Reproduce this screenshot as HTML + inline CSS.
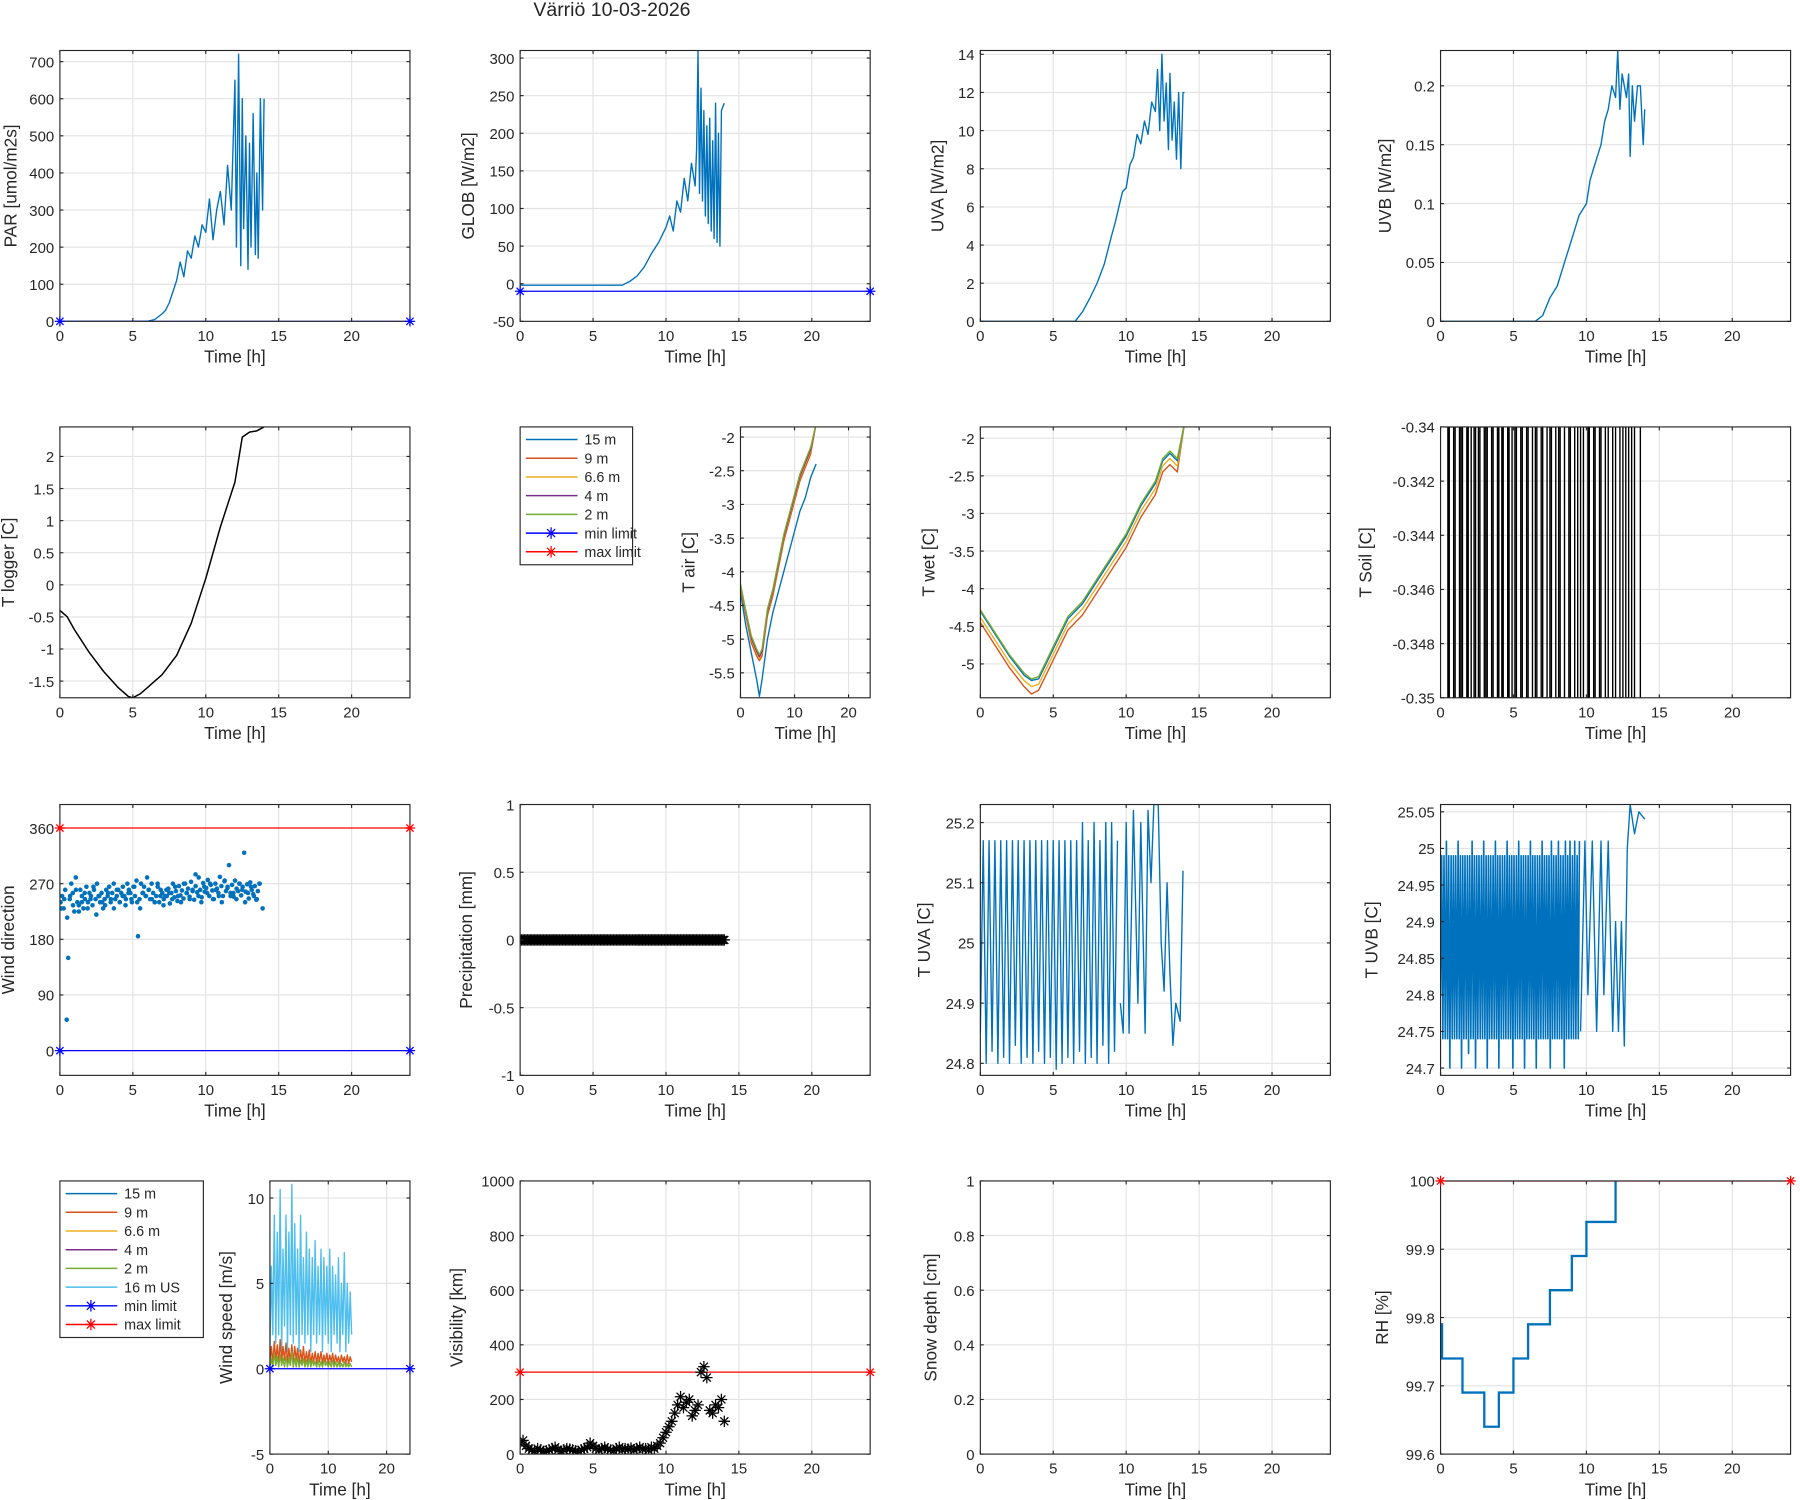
<!DOCTYPE html>
<html><head><meta charset="utf-8"><style>
html,body{margin:0;padding:0;background:#fff}
svg{display:block}
text{font-family:"Liberation Sans",Arial,sans-serif;fill:#262626}
</style></head><body>
<svg id="fig" xmlns="http://www.w3.org/2000/svg" width="1800" height="1500" viewBox="0 0 1568 1307">
<rect x="0" y="0" width="1568" height="1307" fill="#fff"/>
<text x="533" y="14" font-size="17" text-anchor="middle">Värriö 10-03-2026</text>
</svg>
<script>
// ---------- DATA ----------
const parT=[0,6,6.5,7,7.25,7.5,7.75,8,8.25,8.5,8.75,9,9.25,9.5,9.75,10,10.25,10.5,10.75,11,11.25,11.5,11.75,12,12.1,12.25,12.4,12.5,12.6,12.75,12.9,13,13.1,13.25,13.4,13.5,13.6,13.75,13.9,14];
const parV=[0,0,5,20,30,50,80,110,160,120,190,170,230,200,260,240,330,220,300,350,260,420,300,650,200,720,150,600,250,500,140,480,200,560,180,400,170,600,300,600];
const globT=[0,7,7.5,8,8.5,9,9.5,10,10.25,10.5,10.75,11,11.25,11.5,11.75,12,12.1,12.2,12.3,12.4,12.5,12.6,12.7,12.8,12.9,13,13.1,13.2,13.3,13.4,13.5,13.6,13.7,13.8,14];
const globV=[-2,-2,3,10,22,40,55,75,90,70,110,95,140,110,160,130,180,310,120,260,110,230,90,210,80,220,70,190,60,240,55,200,50,230,240];
const uvaT=[0,6.5,7,7.5,8,8.5,9,9.25,9.5,9.75,10,10.25,10.5,10.75,11,11.25,11.5,11.75,12,12.15,12.3,12.45,12.6,12.75,12.9,13,13.15,13.3,13.45,13.6,13.75,13.9,14];
const uvaV=[0,0,0.5,1.2,2,3,4.5,5.2,6,6.8,7,8.2,8.6,9.8,9.3,10.5,9.8,11.5,11,13.2,10,14,10.5,12.5,9,13,9.5,11.5,8.5,12,8,12,12];
const uvbT=[0,6.5,7,7.5,8,8.5,9,9.5,10,10.25,10.5,10.75,11,11.25,11.5,11.75,12,12.15,12.3,12.45,12.6,12.75,12.9,13,13.15,13.3,13.5,13.7,13.9,14];
const uvbV=[0,0,0.005,0.02,0.03,0.05,0.07,0.09,0.1,0.12,0.13,0.14,0.15,0.17,0.18,0.2,0.19,0.23,0.18,0.21,0.2,0.19,0.21,0.14,0.2,0.17,0.2,0.2,0.15,0.18];
const tlogT=[0,0.5,1,2,3,4,4.7,5,5.5,6,7,8,9,10,11,12,12.5,13,13.5,14];
const tlogV=[-0.4,-0.5,-0.7,-1.05,-1.35,-1.6,-1.74,-1.76,-1.7,-1.6,-1.4,-1.1,-0.6,0.1,0.9,1.6,2.3,2.38,2.4,2.46];
const tairT=[0,1,2,3,3.5,4,5,6,7,8,9,10,11,12,13,14];
const tair15=[-4.3,-4.8,-5.2,-5.6,-5.85,-5.6,-5,-4.6,-4.3,-4,-3.7,-3.4,-3.1,-2.9,-2.6,-2.4];
const tair9=[-4.25,-4.65,-5.05,-5.25,-5.32,-5.25,-4.65,-4.35,-3.95,-3.55,-3.25,-2.95,-2.65,-2.45,-2.25,-1.8];
const tair66=[-4.22,-4.62,-5.0,-5.2,-5.28,-5.2,-4.6,-4.3,-3.9,-3.5,-3.2,-2.9,-2.6,-2.4,-2.2,-1.8];
const tair4=[-4.2,-4.6,-4.98,-5.18,-5.26,-5.18,-4.58,-4.28,-3.88,-3.48,-3.18,-2.88,-2.58,-2.38,-2.18,-1.8];
const tair2=[-4.18,-4.58,-4.95,-5.15,-5.23,-5.15,-4.55,-4.25,-3.85,-3.45,-3.15,-2.85,-2.55,-2.35,-2.15,-1.8];
const twetT=[0,1,2,3,3.5,4,4.5,5,6,7,8,9,10,11,12,12.5,13,13.5,14];
const twet15=[-4.3,-4.6,-4.9,-5.15,-5.22,-5.2,-5.0,-4.8,-4.4,-4.2,-3.9,-3.6,-3.3,-2.9,-2.6,-2.3,-2.2,-2.3,-1.8];
const twet9=[-4.45,-4.75,-5.05,-5.3,-5.4,-5.35,-5.15,-4.95,-4.55,-4.35,-4.05,-3.75,-3.45,-3.05,-2.75,-2.45,-2.35,-2.45,-1.8];
const twet66=[-4.38,-4.68,-4.98,-5.22,-5.3,-5.27,-5.07,-4.87,-4.47,-4.27,-3.97,-3.67,-3.37,-2.97,-2.67,-2.37,-2.27,-2.37,-1.8];
const twet2=[-4.28,-4.58,-4.88,-5.12,-5.2,-5.17,-4.97,-4.77,-4.37,-4.17,-3.87,-3.57,-3.27,-2.87,-2.57,-2.27,-2.17,-2.27,-1.8];
const tsoilT=[0.3,0.5,0.6,0.9,1.0,1.3,1.4,1.5,1.8,1.9,2.1,2.3,2.4,2.6,2.7,3.0,3.1,3.2,3.5,3.6,3.9,4.0,4.2,4.3,4.6,4.7,4.9,5.1,5.2,5.5,5.6,5.9,6.0,6.3,6.5,6.6,6.9,7.0,7.3,7.5,7.6,7.9,8.1,8.2,8.5,8.8,8.9,9.2,9.4,9.6,9.8,10.1,10.2,10.5,10.6,10.9,11.0,11.3,11.5,11.8,12.0,12.3,12.5,12.7,12.9,13.1,13.3,13.7];
const tsoilV=[-0.34,-0.35,-0.34,-0.35,-0.34,-0.35,-0.34,-0.35,-0.34,-0.35,-0.34,-0.35,-0.34,-0.35,-0.34,-0.35,-0.34,-0.35,-0.34,-0.35,-0.34,-0.35,-0.34,-0.35,-0.34,-0.35,-0.34,-0.35,-0.34,-0.35,-0.34,-0.35,-0.34,-0.35,-0.34,-0.35,-0.34,-0.35,-0.34,-0.35,-0.34,-0.35,-0.34,-0.35,-0.34,-0.35,-0.34,-0.35,-0.34,-0.35,-0.34,-0.35,-0.34,-0.35,-0.34,-0.35,-0.34,-0.35,-0.34,-0.35,-0.34,-0.35,-0.34,-0.35,-0.34,-0.35,-0.34,-0.35];
const wdStart=0.05, wdStep=0.104;
const wdV=[240,250,230,260,50,150,245,270,255,225,280,240,235,260,250,230,245,265,240,255,250,235,260,245,270,250,240,255,230,245,260,250,265,240,255,270,245,250,260,240,255,265,250,245,270,260,255,240,265,250,275,185,245,270,255,265,250,280,260,245,270,255,240,250,265,240,260,255,245,250,
 250,262,238,255,270,248,258,242,266,251,259,246,270,255,262,249,273,258,244,266,256,280,260,248,271,257,263,276,250,268,259,245,270,262,255,281,266,250,274,258,263,300,255,268,249,275,262,258,270,251,265,320,257,269,246,272,260,253,266,244,258,270];
const wdStart2=0.1;
const wdV2=[230,245,215,250,235,260,225,240,255,230,245,265,220,250,240,235,255,245,230,260,240,250,235,255,245,265,240,230,255,250,260,245,240,270,250,235,260,255,245,265,250,240,270,255,245,260,285,250,240,265,255,270,245,260,250,240,275,265,250,255,245,270,260,240,255,265,250,245,270,230];
const precipStart=0, precipStep=0.1;
const precipV=new Array(141).fill(0);
const tuvaStart=0, tuvaStep=0.2;
const tuvaV=[24.85,25.17,24.8,25.17,24.82,25.17,24.8,25.17,24.81,25.17,24.8,25.17,24.83,25.17,24.8,25.17,24.81,25.17,24.8,25.17,24.82,25.17,24.8,25.17,24.81,25.17,24.79,25.17,24.8,25.17,24.81,25.17,24.8,25.17,24.82,25.2,24.8,25.17,24.81,25.2,24.8,25.17,24.83,25.2,24.8,25.2,24.82,25.17];
const tuvaT2=[9.6,9.8,10,10.2,10.5,10.8,11,11.3,11.5,11.7,11.9,12.2,12.4,12.6,12.8,13,13.2,13.4,13.7,13.9];
const tuvaV2=[24.9,24.85,25.2,24.85,25.22,24.9,25.2,24.85,25.22,25.1,25.23,25.23,25.0,24.92,25.1,24.95,24.83,24.9,24.87,25.12];
const tuvbStart=0, tuvbStep=0.08;
const tuvbV=[24.8,24.99,24.74,24.99,24.74,25.01,24.74,24.99,24.7,24.99,24.74,24.99,24.74,24.99,24.74,25.01,24.74,24.99,24.7,24.99,24.74,24.99,24.74,24.99,24.72,24.99,24.74,25.01,24.74,24.99,24.7,24.99,24.74,24.99,24.74,24.99,24.74,25.01,24.74,24.99,24.7,24.99,24.74,24.99,24.74,24.99,24.74,25.01,24.74,24.99,24.7,24.99,24.74,24.99,24.74,24.99,24.74,25.01,24.74,24.99,24.74,24.99,24.7,24.99,24.74,24.99,24.74,25.01,24.74,24.99,24.74,24.99,24.7,24.99,24.74,24.99,24.74,25.01,24.74,24.99,24.74,24.99,24.7,24.99,24.74,24.99,24.74,25.01,24.74,24.99,24.74,24.99,24.74,24.99,24.7,25.01,24.74,24.99,24.74,24.99,24.74,25.01,24.74,24.99,24.74,24.99,24.7,25.01,24.74,24.99,24.74,25.01,24.74,24.99,24.74,25.01,24.74,24.99,24.74,25.01];
const tuvbT2=[9.6,9.9,10.1,10.4,10.7,11,11.2,11.5,11.8,12,12.2,12.4,12.6,12.8,13,13.3,13.6,14];
const tuvbV2=[24.75,25.01,24.8,25.01,24.75,25.01,24.8,25.01,24.75,24.9,24.75,24.9,24.73,25.0,25.06,25.02,25.05,25.04];
const wsStart=0, wsStep=0.25;
const ws16=[1,6,2,9,1.5,8,2,10.5,1,7,2.5,9,1,8,2,10.8,1.5,8.5,2,7,1,9,2,6.5,1.5,8,2,7,1,6.5,2,7.5,1.5,6,2,7,1,6.5,2,6,1.5,7,1,6,2,5.5,1.5,6.5,1,5,2,6.8,1,5,1.5,4.5,2];
const ws9=[0.4,1.3,0.3,1.6,0.5,1.4,0.3,1.7,0.4,1.3,0.5,1.5,0.3,1.2,0.4,1.4,0.3,1.3,0.5,1.2,0.3,1.1,0.4,1.3,0.3,1.0,0.4,1.1,0.3,0.9,0.4,1.0,0.3,0.9,0.4,1.0,0.3,0.8,0.4,0.9,0.3,0.8,0.4,0.9,0.3,0.8,0.4,0.7,0.3,0.8,0.4,0.7,0.3,0.8,0.3,0.7,0.4];
const ws2=[0.1,0.6,0.1,0.9,0.2,0.7,0.1,0.8,0.2,0.6,0.1,0.7,0.1,0.6,0.2,1.0,0.1,0.6,0.1,0.7,0.1,0.5,0.2,0.6,0.1,0.5,0.1,0.6,0.1,0.5,0.2,0.4,0.1,0.5,0.1,0.4,0.1,0.5,0.2,0.4,0.1,0.4,0.1,0.5,0.1,0.4,0.1,0.4,0.1,0.3,0.1,0.4,0.1,0.3,0.1,0.3,0.1];
const visStart=0, visStep=0.2;
const visV=[40,50,30,20,15,10,20,15,10,12,15,20,25,15,10,15,20,18,15,12,10,15,20,25,40,30,20,15,20,25,18,15,12,20,25,15,20,18,22,15,20,25,18,20,15,25,20,30,40,60,80,100,120,150,180,210,170,190,200,140,160,180,300,320,280,160,150,180,170,200,120];
const rhT=[0,0.1,1.5,3,4,5,6,7.5,9,10,11,12];
const rhV=[99.79,99.74,99.69,99.64,99.69,99.74,99.79,99.84,99.89,99.94,99.94,100];

// ---------- HELPERS ----------
const NS='http://www.w3.org/2000/svg';
const fig=document.getElementById('fig');
let clipId=0;
function el(tag,attrs,parent){const e=document.createElementNS(NS,tag);for(const k in attrs)e.setAttribute(k,attrs[k]);(parent||fig).appendChild(e);return e;}
function axes(name,x0,x1,y0,y1,xl,yl,xt,yt,ylab,yoff){
  const g=el('g',{});
  
  
  const sx=v=>x0+(v-xl[0])/(xl[1]-xl[0])*(x1-x0);
  const sy=v=>y1-(v-yl[0])/(yl[1]-yl[0])*(y1-y0);
  el('rect',{x:x0,y:y0,width:x1-x0,height:y1-y0,fill:'#fff'},g);
  const grid=el('g',{stroke:'#e3e3e3','stroke-width':1},g);
  xt.forEach(t=>{const X=sx(t);if(X>x0+0.5&&X<x1-0.5)el('line',{x1:X,x2:X,y1:y0,y2:y1},grid);
    const tx=el('text',{x:X,y:y1+17,'font-size':13,'text-anchor':'middle'},g);tx.textContent=String(t);});
  yt.forEach(t=>{const Y=sy(t);if(Y>y0+0.5&&Y<y1-0.5)el('line',{x1:x0,x2:x1,y1:Y,y2:Y},grid);
    const tx=el('text',{x:x0-5,y:Y+5,'font-size':13,'text-anchor':'end'},g);tx.textContent=String(t);});
  const id='c'+(clipId++);
  const cp=el('clipPath',{id:id},g);el('rect',{x:x0,y:y0,width:x1-x0,height:y1-y0},cp);
  const data=el('g',{'clip-path':'url(#'+id+')'},g);
  const box=el('g',{stroke:'#262626','stroke-width':1,fill:'none'},g);
  el('rect',{x:x0,y:y0,width:x1-x0,height:y1-y0},box);
  xt.forEach(t=>{const X=sx(t);el('line',{x1:X,x2:X,y1:y1,y2:y1-3},box);el('line',{x1:X,x2:X,y1:y0,y2:y0+3},box);});
  yt.forEach(t=>{const Y=sy(t);el('line',{x1:x0,x2:x0+3,y1:Y,y2:Y},box);el('line',{x1:x1,x2:x1-3,y1:Y,y2:Y},box);});
  const xlab=el('text',{x:(x0+x1)/2,y:y1+36,'font-size':15,'text-anchor':'middle'},g);xlab.textContent='Time [h]';
  
  
  const cy=(y0+y1)/2;
  const ylb=el('text',{x:x0-yoff,y:cy,'font-size':15,'text-anchor':'middle',transform:'rotate(-90 '+(x0-yoff)+' '+cy+')'},g);ylb.textContent=ylab;
  
  
  return {sx,sy,data,g};
}
function line(ax,T,V,color,w,name){
  const d=T.map((t,i)=>(i?'L':'M')+ax.sx(t).toFixed(1)+' '+ax.sy(V[i]).toFixed(1)).join('');
  const p=el('path',{d:d,fill:'none',stroke:color,'stroke-width':w||1.2,'stroke-linejoin':'round'},ax.data);
  
  
  return p;
}
function stairs(ax,T,V,color,w,name){
  let d='';T.forEach((t,i)=>{const X=ax.sx(t).toFixed(1),Y=ax.sy(V[i]).toFixed(1);
    if(i===0)d+='M'+X+' '+Y;else d+='H'+X+'V'+Y;});
  const p=el('path',{d:d,fill:'none',stroke:color,'stroke-width':w||1.2},ax.data);
  
  
}
function star(parent,X,Y,color,s){
  const g=el('g',{stroke:color,'stroke-width':1.1},parent);
  el('line',{x1:X-s,x2:X+s,y1:Y,y2:Y},g);el('line',{x1:X,x2:X,y1:Y-s,y2:Y+s},g);
  el('line',{x1:X-s*0.7,x2:X+s*0.7,y1:Y-s*0.7,y2:Y+s*0.7},g);el('line',{x1:X-s*0.7,x2:X+s*0.7,y1:Y+s*0.7,y2:Y-s*0.7},g);
  return g;
}
function limit(ax,v,color,name){
  const p=line(ax,[0,24],[v,v],color,1.1,name);
  const g=el('g',{},ax.g);
  
  
  star(g,ax.sx(0),ax.sy(v),color,4.5);star(g,ax.sx(24),ax.sy(v),color,4.5);
}
const idx=(start,step,arr)=>arr.map((_,i)=>start+i*step);
const C1='#0072BD',C2='#D95319',C3='#EDB120',C4='#7E2F8E',C5='#77AC30',C6='#4DBEEE';
const X24=[0,24],XT=[0,5,10,15,20];
const cols=[[52,357],[453,758],[854,1159],[1255,1560]];
const rows=[[44,280],[372,608],[701,937],[1029,1267]];

// ---------- ROW 1 ----------
let a=axes('par-panel',cols[0][0],cols[0][1],rows[0][0],rows[0][1],X24,[0,730],XT,[0,100,200,300,400,500,600,700],'PAR [umol/m2s]',38);
line(a,parT,parV,C1,1.2,'par-line');limit(a,0,'#0000ff','par-min-limit');
a=axes('glob-panel',cols[1][0],cols[1][1],rows[0][0],rows[0][1],X24,[-50,310],XT,[-50,0,50,100,150,200,250,300],'GLOB [W/m2]',40);
line(a,globT,globV,C1,1.2,'glob-line');limit(a,-10,'#0000ff','glob-min-limit');
a=axes('uva-panel',cols[2][0],cols[2][1],rows[0][0],rows[0][1],X24,[0,14.2],XT,[0,2,4,6,8,10,12,14],'UVA [W/m2]',32);
line(a,uvaT,uvaV,C1,1.2,'uva-line');
a=axes('uvb-panel',cols[3][0],cols[3][1],rows[0][0],rows[0][1],X24,[0,0.23],XT,[0,0.05,0.1,0.15,0.2],'UVB [W/m2]',43);
line(a,uvbT,uvbV,C1,1.2,'uvb-line');

// ---------- ROW 2 ----------
a=axes('t-logger-panel',cols[0][0],cols[0][1],rows[1][0],rows[1][1],X24,[-1.76,2.46],XT,[-1.5,-1,-0.5,0,0.5,1,1.5,2],'T logger [C]',40);
line(a,tlogT,tlogV,'#000',1.3,'t-logger-line');
a=axes('t-air-panel',645,758,rows[1][0],rows[1][1],X24,[-5.87,-1.85],[0,10,20],[-5.5,-5,-4.5,-4,-3.5,-3,-2.5,-2],'T air [C]',40);
line(a,tairT,tair15,C1,1.2,'t-air-15m');line(a,tairT,tair9,C2,1.2,'t-air-9m');line(a,tairT,tair66,C3,1.2,'t-air-6.6m');
line(a,tairT,tair4,C4,1.2,'t-air-4m');line(a,tairT,tair2,C5,1.2,'t-air-2m');
a=axes('t-wet-panel',cols[2][0],cols[2][1],rows[1][0],rows[1][1],X24,[-5.45,-1.85],XT,[-5,-4.5,-4,-3.5,-3,-2.5,-2],'T wet [C]',40);
line(a,twetT,twet9,C2,1.2,'t-wet-9m');line(a,twetT,twet66,C3,1.2,'t-wet-6.6m');line(a,twetT,twet15,C1,1.2,'t-wet-15m');line(a,twetT,twet2,C5,1.2,'t-wet-2m');
a=axes('t-soil-panel',cols[3][0],cols[3][1],rows[1][0],rows[1][1],X24,[-0.35,-0.34],XT,[-0.35,-0.348,-0.346,-0.344,-0.342,-0.34],'T Soil [C]',60);
stairs(a,tsoilT,tsoilV,'#000',1.2,'t-soil-line');

// ---------- ROW 3 ----------
a=axes('wind-direction-panel',cols[0][0],cols[0][1],rows[2][0],rows[2][1],X24,[-40,398],XT,[0,90,180,270,360],'Wind direction',40);
limit(a,360,'#ff0000','wd-max-limit');limit(a,0,'#0000ff','wd-min-limit');
{const g=el('g',{fill:C1},a.data);
 const tt=idx(wdStart,wdStep,wdV);wdV.forEach((v,i)=>el('circle',{cx:a.sx(tt[i]),cy:a.sy(v),r:2},g));
 const tt2=idx(wdStart2,0.2,wdV2);wdV2.forEach((v,i)=>el('circle',{cx:a.sx(tt2[i]),cy:a.sy(v),r:2},g));}
a=axes('precipitation-panel',cols[1][0],cols[1][1],rows[2][0],rows[2][1],X24,[-1,1],XT,[-1,-0.5,0,0.5,1],'Precipitation [mm]',42);
{const g=el('g',{},a.data);
 const tt=idx(precipStart,precipStep,precipV);precipV.forEach((v,i)=>star(g,a.sx(tt[i]),a.sy(v),'#000',5));}
a=axes('t-uva-panel',cols[2][0],cols[2][1],rows[2][0],rows[2][1],X24,[24.78,25.23],XT,[24.8,24.9,25,25.1,25.2],'T UVA [C]',44);
line(a,idx(tuvaStart,tuvaStep,tuvaV),tuvaV,C1,1.2,'t-uva-line');line(a,tuvaT2,tuvaV2,C1,1.2,'t-uva-line-tail');
a=axes('t-uvb-panel',cols[3][0],cols[3][1],rows[2][0],rows[2][1],X24,[24.69,25.06],XT,[24.7,24.75,24.8,24.85,24.9,24.95,25,25.05],'T UVB [C]',55);
line(a,idx(tuvbStart,tuvbStep,tuvbV),tuvbV,C1,1.4,'t-uvb-line');line(a,tuvbT2,tuvbV2,C1,1.2,'t-uvb-line-tail');

// ---------- ROW 4 ----------
a=axes('wind-speed-panel',235,357,rows[3][0],rows[3][1],X24,[-5,11],[0,10,20],[-5,0,5,10],'Wind speed [m/s]',33);
{const tt=idx(wsStart,wsStep,ws16);line(a,tt,ws16,C6,1.2,'ws-16m-us');line(a,tt,ws9,C2,1.2,'ws-9m');line(a,tt,ws2,C5,1.2,'ws-2m');}
limit(a,0,'#0000ff','ws-min-limit');
a=axes('visibility-panel',cols[1][0],cols[1][1],rows[3][0],rows[3][1],X24,[0,1000],XT,[0,200,400,600,800,1000],'Visibility [km]',50);
limit(a,300,'#ff0000','vis-max-limit');
{const g=el('g',{},a.data);
 const tt=idx(visStart,visStep,visV);visV.forEach((v,i)=>star(g,a.sx(tt[i]),a.sy(v),'#000',5));}
a=axes('snow-depth-panel',cols[2][0],cols[2][1],rows[3][0],rows[3][1],X24,[0,1],XT,[0,0.2,0.4,0.6,0.8,1],'Snow depth [cm]',38);
a=axes('rh-panel',cols[3][0],cols[3][1],rows[3][0],rows[3][1],X24,[99.6,100],XT,[99.6,99.7,99.8,99.9,100],'RH [%]',46);
stairs(a,rhT,rhV,C1,2,'rh-line');limit(a,100,'#ff0000','rh-max-limit');

// ---------- LEGENDS ----------
function legend(name,x,y,w,items){
  const g=el('g',{});
  
  
  el('rect',{x:x,y:y,width:w,height:items.length*16.3+6,fill:'#fff',stroke:'#262626','stroke-width':1},g);
  items.forEach((it,i)=>{const Y=y+11+i*16.3;
    const e=el('g',{},g);
    
    
    el('line',{x1:x+5,x2:x+50,y1:Y,y2:Y,stroke:it[1],'stroke-width':1.3},e);
    if(it[2])star(e,x+27,Y,it[1],5);
    const t=el('text',{x:x+56,y:Y+4.5,'font-size':12.5},e);t.textContent=it[0];});
}
legend('legend-t-air',453,372,98,[['15 m',C1],['9 m',C2],['6.6 m',C3],['4 m',C4],['2 m',C5],['min limit','#0000ff',1],['max limit','#ff0000',1]]);
legend('legend-wind-speed',52,1029,125,[['15 m',C1],['9 m',C2],['6.6 m',C3],['4 m',C4],['2 m',C5],['16 m US',C6],['min limit','#0000ff',1],['max limit','#ff0000',1]]);
</script>
</body></html>
